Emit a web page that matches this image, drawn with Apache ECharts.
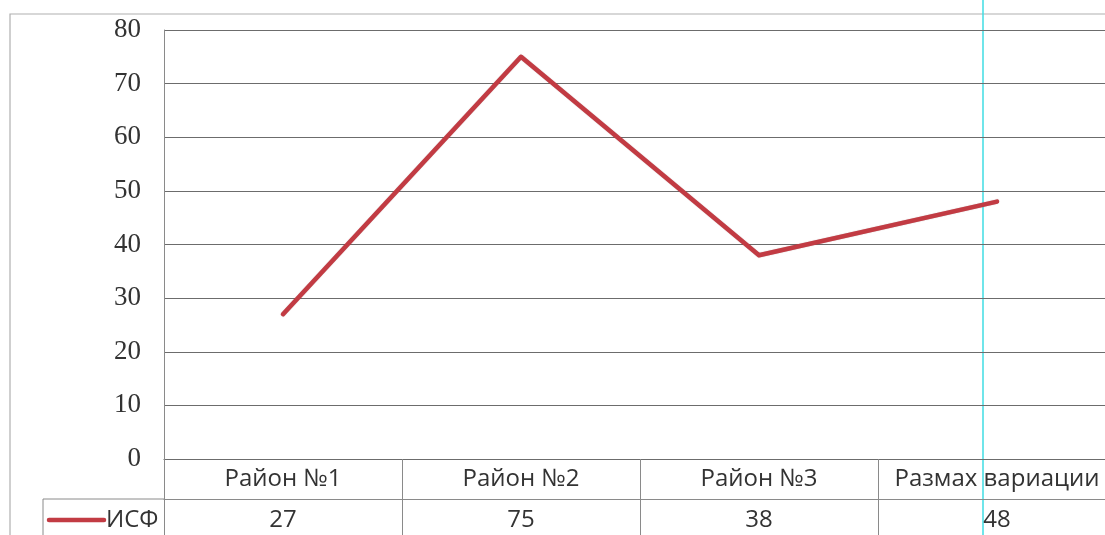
<!DOCTYPE html>
<html>
<head>
<meta charset="utf-8">
<script src="https://cdn.jsdelivr.net/npm/echarts@6/dist/echarts.min.js"></script>
<style>
  html, body { margin: 0; padding: 0; background: #fff; overflow: hidden; }
  #chart { width: 1116px; height: 535px; }
</style>
</head>
<body>
<div id="chart"></div>
<script>
// Районы и размах вариации
const categories = ['Район №1', 'Район №2', 'Район №3', 'Размах вариации'];
const seriesName = 'ИСФ';
const isfValues = [27, 75, 38, 48];
const yTicks = [0, 10, 20, 30, 40, 50, 60, 70, 80];

const chart = echarts.init(document.getElementById('chart'));

const gridLeft = 164, gridTop = 30, gridH = 429;
const tableRow = 40;
const lineColor = '#6c6c6c';
const tableColor = '#8a8a8a';
const textFont = 'Open Sans';
const lineRed = '#c23b43';

chart.setOption({
  animation: false,
  grid: { left: gridLeft, top: gridTop, right: 0, height: gridH, containLabel: false },
  xAxis: [
    {
      type: 'category',
      data: categories,
      boundaryGap: true,
      axisLine: { show: true, lineStyle: { color: lineColor, width: 1.2 } },
      axisTick: { show: true, interval: 0, length: tableRow * 2 + 2, lineStyle: { color: tableColor, width: 1 } },
      axisLabel: {
        interval: 0, margin: 8,
        fontFamily: textFont, fontSize: 24, color: '#333'
      },
      splitLine: { show: false }
    },
    {
      type: 'category',
      position: 'bottom',
      offset: tableRow,
      data: isfValues.map(String),
      boundaryGap: true,
      axisLine: { show: true, lineStyle: { color: tableColor, width: 1 } },
      axisTick: { show: false },
      axisLabel: {
        interval: 0, margin: 9,
        fontFamily: textFont, fontSize: 24, color: '#333'
      }
    }
  ],
  yAxis: {
    type: 'value',
    min: yTicks[0],
    max: yTicks[yTicks.length - 1],
    interval: 10,
    axisLine: { show: true, lineStyle: { color: tableColor, width: 1 } },
    axisTick: { show: false },
    axisLabel: {
      margin: 23,
      fontFamily: 'Liberation Serif', fontSize: 27, color: '#333'
    },
    splitLine: { show: true, lineStyle: { color: lineColor, width: 1.2 } }
  },
  series: [
    {
      name: seriesName,
      type: 'line',
      data: isfValues,
      symbol: 'none',
      lineStyle: {
        color: lineRed, width: 4.5, cap: 'round', join: 'round',
        shadowColor: 'rgba(90,20,25,0.35)', shadowBlur: 1
      }
    }
  ],
  graphic: [
    // outer frame
    { type: 'polyline', shape: { points: [[10, 535], [10, 14], [1116, 14]] },
      style: { stroke: '#b0b0b0', lineWidth: 1.2, fill: null } },
    // legend cell of the data table
    { type: 'polyline', shape: { points: [[43, 535], [43, 499], [gridLeft, 499]] },
      style: { stroke: tableColor, lineWidth: 1, fill: null } },
    { type: 'line', shape: { x1: 49, y1: 520, x2: 104, y2: 520 },
      style: { stroke: lineRed, lineWidth: 4.5, lineCap: 'round' } },
    { type: 'text', x: 106, y: 520,
      style: { text: seriesName, fontFamily: textFont, fontSize: 24, fill: '#333', verticalAlign: 'middle', align: 'left' } },
    // cyan guide
    { type: 'line', shape: { x1: 983, y1: 0, x2: 983, y2: 535 },
      style: { stroke: '#3fdde3', lineWidth: 1.5 } }
  ]
});
</script>
</body>
</html>
